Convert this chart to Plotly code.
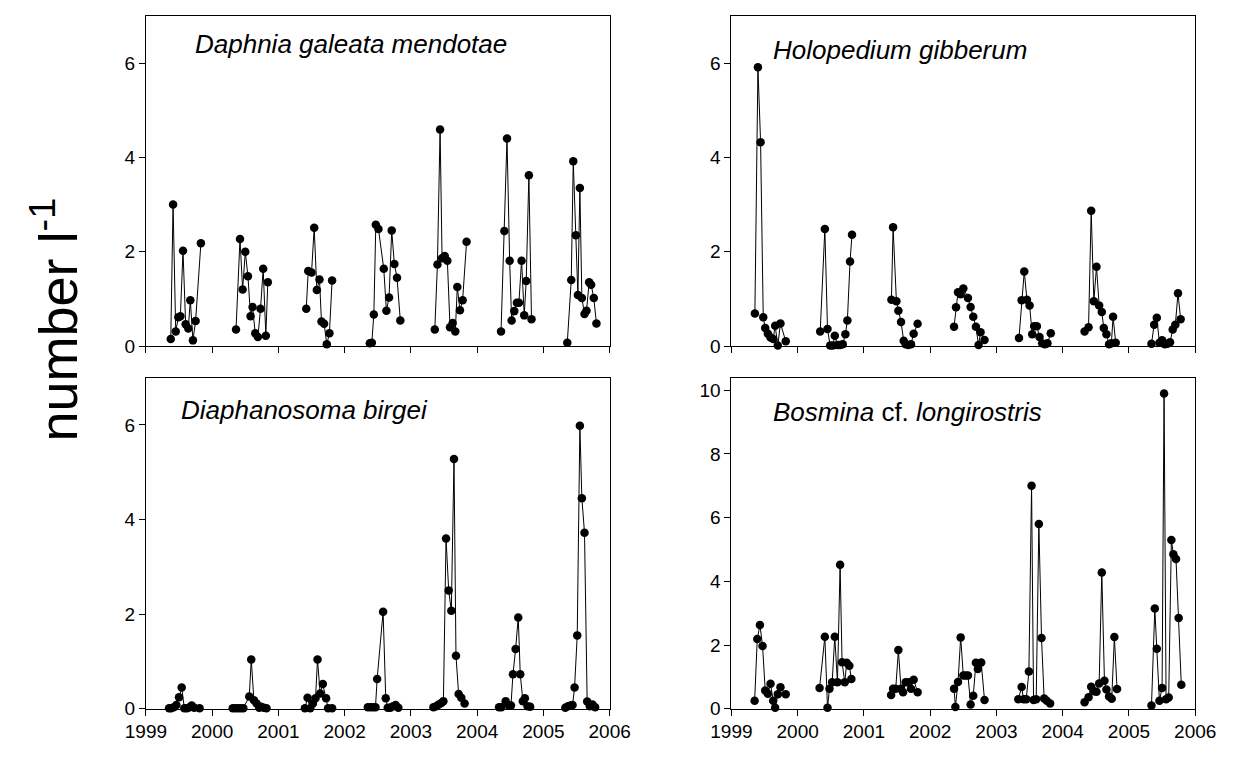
import plotly.graph_objects as go

# ---------------- data (decimal year, individuals per litre) ----------------
daphnia_t = [1999.375, 1999.41, 1999.45, 1999.49, 1999.52, 1999.56, 1999.60, 1999.64, 1999.67, 1999.71, 1999.75, 1999.83,
             2000.36, 2000.42, 2000.46, 2000.50, 2000.54, 2000.58, 2000.61, 2000.65, 2000.69, 2000.73, 2000.77, 2000.81, 2000.84,
             2001.42, 2001.45, 2001.50, 2001.54, 2001.58, 2001.62, 2001.65, 2001.69, 2001.73, 2001.77, 2001.81,
             2002.38, 2002.41, 2002.44, 2002.47, 2002.51, 2002.59, 2002.63, 2002.67, 2002.71, 2002.75, 2002.79, 2002.84,
             2003.36, 2003.40, 2003.44, 2003.47, 2003.51, 2003.55, 2003.59, 2003.63, 2003.67, 2003.70, 2003.74, 2003.78, 2003.84,
             2004.36, 2004.41, 2004.45, 2004.49, 2004.52, 2004.56, 2004.60, 2004.63, 2004.67, 2004.71, 2004.74, 2004.78, 2004.82,
             2005.36, 2005.42, 2005.45, 2005.49, 2005.52, 2005.55, 2005.58, 2005.62, 2005.65, 2005.69, 2005.72, 2005.76, 2005.80]
daphnia_v = [0.15, 3.0, 0.31, 0.61, 0.63, 2.02, 0.46, 0.37, 0.97, 0.12, 0.53, 2.18,
             0.35, 2.27, 1.2, 2.0, 1.48, 0.63, 0.83, 0.27, 0.19, 0.79, 1.64, 0.22, 1.35,
             0.79, 1.59, 1.56, 2.51, 1.19, 1.41, 0.52, 0.47, 0.04, 0.27, 1.39,
             0.06, 0.07, 0.67, 2.57, 2.48, 1.64, 0.75, 1.03, 2.45, 1.74, 1.45, 0.54,
             0.35, 1.73, 4.59, 1.86, 1.91, 1.81, 0.40, 0.49, 0.31, 1.25, 0.76, 0.97, 2.21,
             0.31, 2.44, 4.40, 1.81, 0.54, 0.74, 0.92, 0.92, 1.81, 0.65, 1.38, 3.62, 0.57,
             0.07, 1.4, 3.92, 2.35, 1.08, 3.35, 1.02, 0.68, 0.75, 1.35, 1.3, 1.02, 0.48]

holo_t = [1999.354, 1999.40, 1999.44, 1999.48, 1999.51, 1999.55, 1999.59, 1999.63, 1999.66, 1999.70, 1999.74, 1999.82,
          2000.34, 2000.41, 2000.45, 2000.49, 2000.53, 2000.56, 2000.60, 2000.64, 2000.68, 2000.72, 2000.75, 2000.79, 2000.82,
          2001.415, 2001.44, 2001.49, 2001.52, 2001.56, 2001.60, 2001.63, 2001.67, 2001.71, 2001.75, 2001.81,
          2002.36, 2002.39, 2002.42, 2002.46, 2002.50, 2002.57, 2002.61, 2002.65, 2002.69, 2002.73, 2002.76, 2002.82,
          2003.34, 2003.38, 2003.42, 2003.46, 2003.50, 2003.54, 2003.57, 2003.61, 2003.65, 2003.69, 2003.73, 2003.77, 2003.82,
          2004.33, 2004.39, 2004.43, 2004.47, 2004.51, 2004.55, 2004.59, 2004.62, 2004.66, 2004.70, 2004.735, 2004.76, 2004.80,
          2005.34, 2005.38, 2005.42, 2005.46, 2005.50, 2005.54, 2005.58, 2005.62, 2005.66, 2005.70, 2005.74, 2005.78]
holo_v = [0.69, 5.91, 4.32, 0.61, 0.38, 0.26, 0.18, 0.15, 0.43, 0.01, 0.48, 0.10,
          0.31, 2.48, 0.36, 0.01, 0.01, 0.22, 0.02, 0.02, 0.04, 0.25, 0.54, 1.79, 2.36,
          0.98, 2.52, 0.95, 0.75, 0.51, 0.11, 0.04, 0.02, 0.04, 0.26, 0.47,
          0.41, 0.82, 1.14, 1.10, 1.22, 1.02, 0.83, 0.62, 0.41, 0.02, 0.29, 0.13,
          0.17, 0.97, 1.58, 0.98, 0.86, 0.25, 0.42, 0.42, 0.19, 0.06, 0.04, 0.06, 0.27,
          0.31, 0.40, 2.87, 0.95, 1.68, 0.86, 0.72, 0.38, 0.25, 0.04, 0.06, 0.62, 0.07,
          0.05, 0.45, 0.6, 0.07, 0.12, 0.04, 0.05, 0.08, 0.35, 0.45, 1.12, 0.57]

diaph_t = [1999.35, 1999.38, 1999.42, 1999.46, 1999.50, 1999.54, 1999.58, 1999.62, 1999.66, 1999.69, 1999.73, 1999.81,
           2000.31, 2000.35, 2000.39, 2000.43, 2000.47, 2000.56, 2000.59, 2000.63, 2000.67, 2000.71, 2000.74, 2000.78, 2000.82,
           2001.40, 2001.44, 2001.48, 2001.52, 2001.56, 2001.59, 2001.63, 2001.67, 2001.72, 2001.75, 2001.81,
           2002.35, 2002.39, 2002.43, 2002.465, 2002.49, 2002.58, 2002.62, 2002.65, 2002.69, 2002.73, 2002.77, 2002.81,
           2003.34, 2003.38, 2003.42, 2003.46, 2003.49, 2003.53, 2003.57, 2003.61, 2003.65, 2003.68, 2003.72, 2003.76, 2003.81,
           2004.33, 2004.365, 2004.43, 2004.48, 2004.51, 2004.54, 2004.58, 2004.62, 2004.65, 2004.69, 2004.72, 2004.76, 2004.80,
           2005.33, 2005.37, 2005.41, 2005.44, 2005.47, 2005.51, 2005.55, 2005.58, 2005.62, 2005.66, 2005.70, 2005.74, 2005.78]
diaph_v = [0.01, 0.01, 0.03, 0.08, 0.24, 0.45, 0.01, 0.01, 0.03, 0.07, 0.02, 0.01,
           0.01, 0.01, 0.01, 0.01, 0.01, 0.26, 1.04, 0.18, 0.11, 0.02, 0.04, 0.02, 0.01,
           0.01, 0.23, 0.01, 0.11, 0.22, 1.04, 0.32, 0.52, 0.22, 0.01, 0.01,
           0.03, 0.03, 0.03, 0.03, 0.63, 2.05, 0.22, 0.02, 0.02, 0.05, 0.08, 0.02,
           0.03, 0.05, 0.09, 0.12, 0.16, 3.6, 2.5, 2.07, 5.28, 1.12, 0.31, 0.23, 0.11,
           0.03, 0.03, 0.16, 0.07, 0.07, 0.73, 1.26, 1.93, 0.73, 0.16, 0.22, 0.05, 0.04,
           0.02, 0.05, 0.07, 0.08, 0.45, 1.55, 5.98, 4.45, 3.72, 0.15, 0.05, 0.09, 0.03]

bosm_t = [1999.35, 1999.39, 1999.43, 1999.47, 1999.51, 1999.55, 1999.59, 1999.63, 1999.66, 1999.70, 1999.74, 1999.82,
          2000.33, 2000.41, 2000.45, 2000.48, 2000.52, 2000.56, 2000.60, 2000.64, 2000.67, 2000.71, 2000.74, 2000.78, 2000.81,
          2001.41, 2001.44, 2001.48, 2001.52, 2001.56, 2001.59, 2001.63, 2001.67, 2001.71, 2001.75, 2001.81,
          2002.36, 2002.38, 2002.42, 2002.46, 2002.50, 2002.535, 2002.57, 2002.61, 2002.65, 2002.69, 2002.72, 2002.77, 2002.82,
          2003.33, 2003.38, 2003.41, 2003.45, 2003.49, 2003.53, 2003.56, 2003.60, 2003.64, 2003.68, 2003.72, 2003.76, 2003.81,
          2004.33, 2004.39, 2004.43, 2004.47, 2004.51, 2004.55, 2004.59, 2004.63, 2004.66, 2004.70, 2004.74, 2004.78, 2004.82,
          2005.34, 2005.39, 2005.42, 2005.46, 2005.50, 2005.53, 2005.56, 2005.60, 2005.64, 2005.67, 2005.71, 2005.75, 2005.79]
bosm_v = [0.25, 2.19, 2.63, 1.97, 0.57, 0.47, 0.78, 0.25, 0.03, 0.45, 0.67, 0.45,
          0.65, 2.26, 0.03, 0.63, 0.83, 2.26, 0.83, 4.52, 1.46, 0.83, 1.44, 1.35, 0.93,
          0.43, 0.63, 0.63, 1.84, 0.63, 0.52, 0.83, 0.83, 0.63, 0.91, 0.52,
          0.63, 0.05, 0.84, 2.24, 1.04, 1.04, 1.04, 0.13, 0.41, 1.44, 1.25, 1.45, 0.27,
          0.3, 0.68, 0.3, 0.3, 1.17, 7.0, 0.27, 0.3, 5.8, 2.22, 0.32, 0.25, 0.16,
          0.2, 0.36, 0.69, 0.55, 0.53, 0.79, 4.28, 0.88, 0.6, 0.38, 0.31, 2.25, 0.62,
          0.1, 3.15, 1.88, 0.25, 0.65, 9.9, 0.3, 0.35, 5.3, 4.85, 4.7, 2.85, 0.75]

year_ticks = [1999, 2000, 2001, 2002, 2003, 2004, 2005, 2006]
titles = ["<i>Daphnia galeata mendotae</i>", "<i>Holopedium gibberum</i>",
          "<i>Diaphanosoma birgei</i>", "<i>Bosmina</i> cf. <i>longirostris</i>"]
y_title = "number l<sup>-1</sup>"


def with_breaks(t, v, gap=0.3):
    """Insert None between sampling seasons so the line is not drawn across winters."""
    xs, ys = [], []
    for i, (a, b) in enumerate(zip(t, v)):
        if i > 0 and a - t[i - 1] > gap:
            xs.append(None)
            ys.append(None)
        xs.append(a)
        ys.append(b)
    return xs, ys


W, H = 1243, 759
FONT = "Liberation Sans, Arial, sans-serif"

fig = go.Figure()
series = [(daphnia_t, daphnia_v), (holo_t, holo_v), (diaph_t, diaph_v), (bosm_t, bosm_v)]
for k, (t, v) in enumerate(series):
    xs, ys = with_breaks(t, v)
    sfx = "" if k == 0 else str(k + 1)
    fig.add_trace(go.Scatter(
        x=xs, y=ys, mode="lines+markers", connectgaps=False,
        line=dict(color="black", width=1),
        marker=dict(color="black", size=8.5, symbol="circle"),
        xaxis="x" + sfx, yaxis="y" + sfx, showlegend=False, cliponaxis=False))

# panel boxes in pixels: (left, right, top, bottom)
boxes = [(121, 601, 8, 343), (727, 1207, 8, 343), (121, 601, 375, 711), (727, 1207, 375, 711)]
yranges = [[0, 7], [0, 7], [0, 7], [0, 10.4]]
ytickv = [[0, 2, 4, 6], [0, 2, 4, 6], [0, 2, 4, 6], [0, 2, 4, 6, 8, 10]]

layout = dict(width=W, height=H, margin=dict(l=0, r=0, t=0, b=0),
              paper_bgcolor="white", plot_bgcolor="white",
              font=dict(family=FONT, size=19, color="black"))
for k, (l, r, tp, bt) in enumerate(boxes):
    sfx = "" if k == 0 else str(k + 1)
    common = dict(showline=True, mirror=True, linecolor="black", linewidth=1,
                  ticks="outside", ticklen=6, tickwidth=1, tickcolor="black",
                  showgrid=False, zeroline=False,
                  tickfont=dict(family=FONT, size=19, color="black"))
    layout["xaxis" + sfx] = dict(common, domain=[l / W, r / W], range=[1999, 2006],
                                 tickmode="array", tickvals=year_ticks,
                                 ticktext=[str(y) for y in year_ticks],
                                 showticklabels=(k >= 2), anchor="y" + sfx)
    layout["yaxis" + sfx] = dict(common, domain=[1 - bt / H, 1 - tp / H], range=yranges[k],
                                 tickmode="array", tickvals=ytickv[k], anchor="x" + sfx)

fig.update_layout(**layout)

title_pos = [(170, 37), (768, 43), (155, 408), (768, 410)]
for k, (px, py) in enumerate(title_pos):
    fig.add_annotation(text=titles[k], xref="paper", yref="paper",
                       x=px / W, y=1 - py / H, xanchor="left", yanchor="middle",
                       showarrow=False, font=dict(family=FONT, size=26, color="black"))

fig.add_annotation(text=y_title, xref="paper", yref="paper", x=27 / W, y=1 - 316 / H,
                   xanchor="center", yanchor="middle", textangle=-90, showarrow=False,
                   font=dict(family=FONT, size=54, color="black"))

fig.write_html("out.html")
